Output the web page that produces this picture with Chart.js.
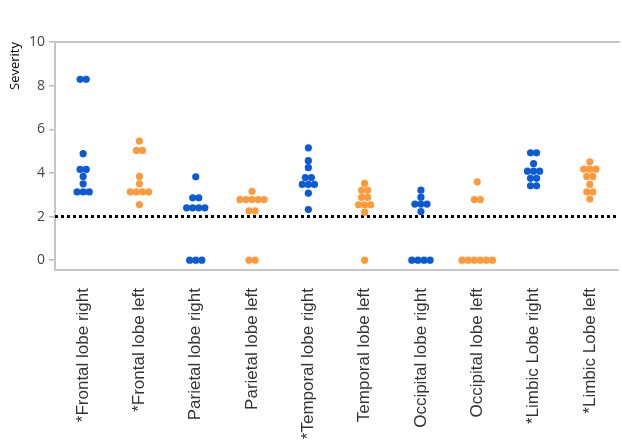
<!DOCTYPE html>
<html><head><meta charset="utf-8">
<script src="https://cdn.jsdelivr.net/npm/chart.js@4/dist/chart.umd.min.js"></script>
<style>html,body{margin:0;padding:0;background:#fff}#wrap{width:622px;height:440px;position:relative}</style>
</head><body><div id="wrap"><canvas id="c"></canvas></div>
<script>
// ---- data ----
const categories = ['*Frontal lobe right', '*Frontal lobe left', 'Parietal lobe right', 'Parietal lobe left',
  '*Temporal lobe right', 'Temporal lobe left', 'Occipital lobe right', 'Occipital lobe left',
  '*Limbic Lobe right', '*Limbic Lobe left'];
const frontalRight   = [8.29, 8.29, 4.88, 4.16, 4.16, 3.84, 3.50, 3.13, 3.13, 3.13];
const frontalLeft    = [5.46, 5.03, 5.03, 3.84, 3.50, 3.13, 3.13, 3.13, 3.13, 2.55];
const parietalRight  = [3.82, 2.86, 2.86, 2.40, 2.40, 2.40, 2.40, 0, 0, 0];
const parietalLeft   = [3.16, 2.78, 2.78, 2.78, 2.78, 2.78, 2.26, 2.26, 0, 0];
const temporalRight  = [5.15, 4.56, 4.24, 3.79, 3.79, 3.47, 3.47, 3.47, 3.07, 2.32];
const temporalLeft   = [3.52, 3.20, 3.20, 2.88, 2.88, 2.54, 2.54, 2.54, 2.20, 0];
const occipitalRight = [3.21, 2.89, 2.57, 2.57, 2.57, 2.23, 0, 0, 0, 0];
const occipitalLeft  = [3.59, 2.78, 2.78, 0, 0, 0, 0, 0, 0];
const limbicRight    = [4.92, 4.92, 4.43, 4.08, 4.08, 4.08, 3.75, 3.75, 3.41, 3.41];
const limbicLeft     = [4.51, 4.17, 4.17, 4.17, 3.84, 3.84, 3.47, 3.13, 3.13, 2.80];
const seriesByCategory = [frontalRight, frontalLeft, parietalRight, parietalLeft, temporalRight,
  temporalLeft, occipitalRight, occipitalLeft, limbicRight, limbicLeft];
const yTickValues = [0, 2, 4, 6, 8, 10];
const threshold = 2;

// ---- beeswarm layout (rows of equal values, centred on the category) ----
const DOT_STEP = 0.108; // horizontal step between dots, in category units
function swarm(catIndexes) {
  const pts = [];
  catIndexes.forEach(ci => {
    const groups = new Map();
    seriesByCategory[ci].forEach(v => groups.set(v, (groups.get(v) || 0) + 1));
    groups.forEach((n, v) => {
      for (let k = 0; k < n; k++) pts.push({x: ci + (k - (n - 1) / 2) * DOT_STEP, y: v});
    });
  });
  return pts;
}
const rightIdx = categories.map((_, i) => i).filter(i => i % 2 === 0);
const leftIdx = categories.map((_, i) => i).filter(i => i % 2 === 1);

const topLine = {
  id: 'topLine',
  afterDraw(chart) {
    const {ctx, chartArea} = chart;
    ctx.save();
    ctx.strokeStyle = '#c6c6c6';
    ctx.lineWidth = 2;
    ctx.beginPath();
    ctx.moveTo(chartArea.left, chartArea.top);
    ctx.lineTo(chartArea.right + 2, chartArea.top);
    ctx.stroke();
    ctx.restore();
  }
};

new Chart(document.getElementById('c'), {
  type: 'scatter',
  data: {
    datasets: [
      {type: 'line', data: [{x: -0.5, y: threshold}, {x: categories.length - 0.5, y: threshold}],
       borderColor: '#000', borderWidth: 3, borderDash: [3, 3], pointRadius: 0, order: 3},
      {data: swarm(rightIdx), backgroundColor: '#0a5bd6', borderWidth: 0, pointRadius: 3.6, order: 1},
      {data: swarm(leftIdx), backgroundColor: '#fe9a3c', borderWidth: 0, pointRadius: 3.6, order: 2}
    ]
  },
  options: {
    responsive: true, maintainAspectRatio: false, animation: false,
    layout: {padding: {top: 42, right: 2, bottom: 0, left: 0}},
    plugins: {legend: {display: false}, tooltip: {enabled: false}},
    scales: {
      x: {
        type: 'linear', min: -0.5, max: categories.length - 0.5,
        afterBuildTicks: s => { s.ticks = categories.map((_, i) => ({value: i})); },
        afterFit: s => { s.height = 170; },
        grid: {display: false},
        border: {display: true, color: '#c6c6c6', width: 2},
        ticks: {
          autoSkip: false, maxRotation: 90, minRotation: 90, padding: 10,
          color: '#333', font: {family: 'Liberation Sans', size: 17},
          callback: v => categories[v]
        }
      },
      y: {
        min: -0.45, max: 10,
        afterBuildTicks: s => { s.ticks = yTickValues.map(v => ({value: v})); },
        afterFit: s => { s.width = 55; },
        grid: {drawOnChartArea: false, tickLength: 6, color: '#bbb', lineWidth: 1.5},
        border: {display: true, color: '#c6c6c6', width: 2},
        ticks: {padding: 4, color: '#444', font: {family: 'Open Sans', size: 14}},
        title: {display: true, text: 'Severity', align: 'end', color: '#000',
                font: {family: 'Open Sans', size: 13}, padding: {top: 7, bottom: 0}}
      }
    }
  },
  plugins: [topLine]
});
</script>
</body></html>
